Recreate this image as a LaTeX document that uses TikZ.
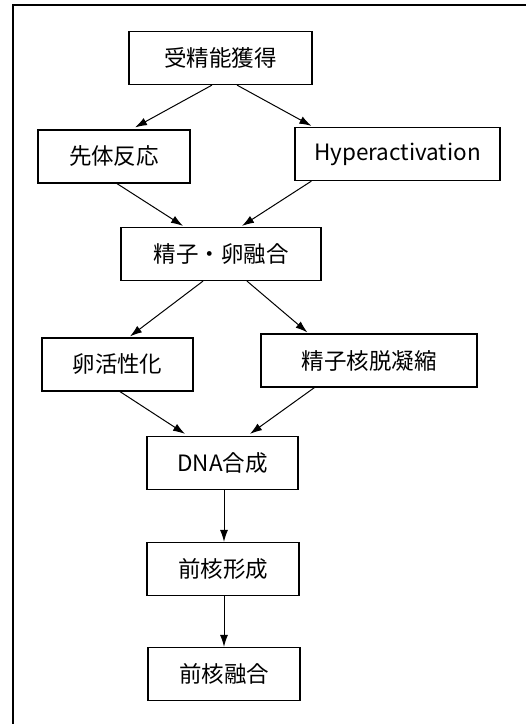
\documentclass[tikz,border=0pt]{standalone}
\usepackage{fontspec}
\newfontfamily\cjk{Noto Sans CJK JP}
\usetikzlibrary{arrows.meta}

\begin{document}
\begin{tikzpicture}[x=1pt, y=-1pt,
  box/.style={draw, line width=1.2pt, inner sep=0pt, minimum height=53pt,
    font=\cjk\fontsize{22.5}{27}\selectfont},
  flow/.style={-{Latex[length=12pt,width=8pt]}, line width=1pt}]
  \useasboundingbox (0,0) rectangle (526,724);
  % frame, cut off on the right and at the bottom
  \draw[line width=1.4pt] (526,5) -- (13,5) -- (13,724);

  \node[box, minimum width=183pt] (fert) at (220.5,58) {受精能獲得};
  \node[box, minimum width=152pt] (acro) at (114,156.5) {先体反応};
  \node[box, minimum width=205pt] (hyper) at (397.5,154) {Hyperactivation};
  \node[box, minimum width=200pt] (fusion) at (221,254) {精子・卵融合};
  \node[box, minimum width=151pt] (eggact) at (117.5,364.5) {卵活性化};
  \node[box, minimum width=216pt] (decond) at (369,360.5) {精子核脱凝縮};
  \node[box, minimum width=151pt] (dna) at (222.5,463) {DNA合成};
  \node[box, minimum width=152pt] (pnform) at (223,569) {前核形成};
  \node[box, minimum width=152pt] (pnfuse) at (224,674) {前核融合};

  \draw[flow] ([xshift=-8.5pt]fert.south) -- ([xshift=21pt,yshift=2pt]acro.north);
  \draw[flow] ([xshift=16.5pt]fert.south) -- ([xshift=17pt,yshift=1pt]hyper.north west);
  \draw[flow] ([xshift=3pt]acro.south) -- ([xshift=-38pt,yshift=1pt]fusion.north);
  \draw[flow] ([xshift=17pt]hyper.south west) -- ([xshift=21pt,yshift=1pt]fusion.north);
  \draw[flow] ([xshift=-18pt]fusion.south) -- ([xshift=12.5pt,yshift=1pt]eggact.north);
  \draw[flow] ([xshift=26pt]fusion.south) -- ([xshift=47pt,yshift=1pt]decond.north west);
  \draw[flow] ([xshift=2.5pt]eggact.south) -- ([xshift=-37.5pt,yshift=2pt]dna.north);
  \draw[flow] ([xshift=54pt]decond.south west) -- ([xshift=27.5pt,yshift=2pt]dna.north);
  \draw[flow] ([xshift=1.5pt]dna.south) -- ([xshift=1pt]pnform.north);
  \draw[flow] ([xshift=1pt]pnform.south) -- (pnfuse.north);
\end{tikzpicture}
\end{document}
